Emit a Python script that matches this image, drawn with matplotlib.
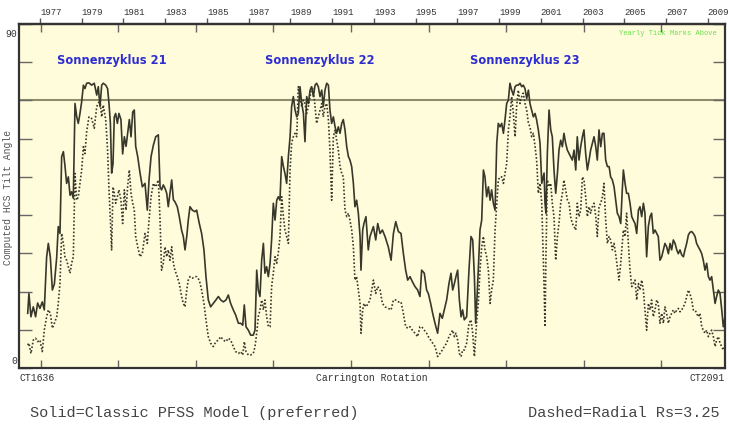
import matplotlib
matplotlib.use("Agg")
import matplotlib.pyplot as plt

# ------------------------------
# Data: Carrington rotation vs. computed HCS tilt angle (deg)
# ------------------------------
carrington = [
    1641.6, 1642.4, 1643.7, 1645.2, 1646.7, 1648.0, 1649.5, 1651.0, 1652.3, 1653.8,
    1654.9, 1656.2, 1657.5, 1658.8, 1660.3, 1661.3, 1662.4, 1663.5, 1664.6, 1665.6,
    1666.7, 1667.8, 1668.9, 1669.9, 1671.0, 1672.1, 1673.2, 1674.2, 1675.3, 1676.4,
    1677.5, 1678.5, 1679.6, 1681.1, 1682.8, 1684.5, 1686.1, 1687.1, 1688.2, 1689.3,
    1690.3, 1691.9, 1693.1, 1694.0, 1694.9, 1695.7, 1696.6, 1697.4, 1698.3, 1699.4,
    1700.4, 1701.7, 1702.8, 1703.9, 1705.0, 1706.0, 1707.1, 1708.2, 1709.3, 1710.3,
    1711.2, 1712.5, 1714.0, 1715.5, 1717.2, 1718.7, 1719.8, 1721.1, 1722.6, 1724.1,
    1725.8, 1726.9, 1727.9, 1729.0, 1730.1, 1731.2, 1732.2, 1733.3, 1734.4, 1735.5,
    1736.5, 1738.0, 1739.3, 1740.8, 1741.9, 1743.0, 1744.1, 1745.1, 1746.2, 1747.7,
    1749.4,
    1750.5, 1752.2, 1753.7, 1755.2, 1756.5, 1758.0, 1759.5, 1761.2, 1762.9, 1764.5,
    1766.0, 1767.7, 1769.4, 1770.9, 1772.4, 1774.1, 1775.6, 1777.4, 1778.9, 1780.2,
    1781.2, 1782.3, 1783.8, 1785.3, 1787.0, 1788.1, 1789.2, 1790.2, 1791.3, 1792.4,
    1793.5, 1794.5, 1795.6, 1796.7, 1797.8, 1798.8, 1799.9, 1801.0, 1802.1, 1803.1,
    1804.2, 1805.3, 1806.4, 1807.4, 1808.5, 1809.6, 1810.7, 1811.7, 1812.8, 1813.9,
    1815.0, 1816.0, 1817.1, 1818.2, 1819.3, 1820.3, 1821.4, 1822.5, 1823.6, 1824.6,
    1825.7, 1826.8, 1827.8, 1828.9, 1830.0, 1831.1, 1832.1, 1833.2, 1834.3, 1835.4,
    1836.4, 1837.5, 1838.6, 1839.7, 1840.7, 1841.8, 1842.9, 1844.0, 1845.0, 1846.1,
    1847.2, 1848.3, 1849.3, 1850.4, 1851.5, 1852.5, 1853.6, 1854.7, 1855.8,
    1856.4, 1857.5, 1858.3, 1859.6, 1861.1, 1862.2,
    1864.4, 1865.9, 1867.2, 1868.7, 1870.2, 1871.9, 1874.0, 1875.8, 1877.3, 1878.8,
    1880.5, 1882.2, 1883.7, 1885.2, 1886.5, 1888.0, 1889.5, 1891.2, 1892.9, 1894.4,
    1895.5, 1897.2, 1898.7, 1899.8, 1901.3, 1902.6, 1904.1, 1905.8, 1907.3, 1908.8,
    1910.1, 1911.6, 1913.1, 1914.4, 1915.5, 1916.6, 1917.6, 1918.7, 1919.8, 1920.9,
    1921.9, 1923.0, 1924.5, 1926.0, 1927.3, 1928.4, 1929.5, 1930.3, 1931.2, 1932.0,
    1933.1, 1934.2, 1935.3, 1936.3, 1937.4, 1938.5, 1939.6, 1940.6, 1941.7, 1942.8,
    1943.9, 1944.9, 1946.0, 1947.1, 1948.2, 1949.2, 1950.3, 1951.4, 1952.4, 1953.5,
    1954.6, 1955.7, 1956.7, 1957.8, 1958.9, 1960.0, 1961.0, 1962.1, 1963.2, 1964.3,
    1965.3, 1966.4, 1967.5, 1968.6, 1969.6, 1970.7, 1971.8,
    1972.9, 1974.4, 1975.0, 1975.6, 1976.5,
    1977.6, 1978.7, 1979.7, 1980.8, 1981.9, 1983.0, 1984.0, 1985.1, 1986.2, 1987.2,
    1988.3, 1989.4, 1990.5, 1991.5, 1992.6, 1993.7, 1994.8, 1995.8, 1996.9, 1998.0,
    1999.1, 2000.1, 2001.2, 2002.3, 2003.4, 2004.4, 2005.5, 2006.6, 2007.7, 2008.7,
    2009.8, 2010.9, 2012.0, 2013.0, 2014.1, 2015.2, 2016.3, 2017.3, 2018.4, 2019.5,
    2020.5, 2021.6, 2022.7, 2023.8, 2024.8,
    2025.5, 2026.6, 2027.6, 2028.7, 2029.8, 2030.9, 2031.9, 2033.0, 2034.1, 2035.2,
    2036.2, 2037.3, 2038.4, 2039.4, 2040.5, 2041.6, 2042.7, 2043.7, 2044.8, 2045.9,
    2047.0, 2048.0, 2049.1, 2050.2, 2051.3, 2052.3, 2053.4, 2054.5, 2055.6, 2056.6,
    2057.7, 2058.8, 2059.9, 2060.9, 2062.0, 2063.1, 2064.2, 2065.2, 2066.3, 2067.4,
    2068.4, 2069.5, 2070.6, 2071.7, 2072.7, 2073.8, 2074.9, 2076.0, 2077.0, 2078.1,
    2079.2, 2080.3, 2081.3, 2082.4, 2083.5, 2084.6, 2085.6, 2086.7, 2087.8, 2088.9,
    2089.9, 2091.0,
]

# solid line: classic PFSS model
tilt_classic = [
    14.3, 19.5, 13.4, 16.0, 13.4, 17.0, 15.6, 17.3, 15.2, 29.0,
    32.6, 29.0, 20.4, 22.0, 29.0, 37.0, 35.2, 55.3, 56.6, 53.0,
    48.3, 50.0, 45.2, 46.1, 44.4, 69.2, 65.7, 64.0, 66.6, 69.7,
    74.0, 73.1, 74.5, 74.6, 74.0, 74.5, 71.4, 73.6, 68.4, 74.0,
    74.5, 74.0, 73.1, 69.2, 64.0, 51.0, 53.5, 65.7, 66.6, 64.0,
    66.6, 65.0, 56.0, 60.5, 58.0, 61.4, 65.0, 60.5, 67.0, 67.5,
    58.0, 55.3, 51.0, 47.4, 48.3, 41.3, 49.2, 55.3, 58.3, 60.5,
    61.0, 47.4, 46.6, 47.9, 47.0, 45.7, 42.2, 45.7, 49.2, 44.0,
    43.5, 42.2, 39.6, 36.0, 34.4, 30.9, 34.4, 38.7, 42.2, 41.3,
    40.9,
    41.3, 37.8, 35.2, 30.9, 23.9, 17.8, 16.0, 16.9, 17.8, 18.7,
    17.8, 17.3, 17.8, 19.1, 16.9, 15.2, 13.9, 11.7, 11.7, 11.2,
    16.5, 10.8, 9.9, 8.6, 8.6, 9.9, 25.6, 20.4, 18.7, 28.2,
    32.6, 24.8, 26.5, 23.9, 27.4, 33.5, 43.1, 38.7, 43.9, 44.8,
    43.9, 55.3, 52.7, 50.9, 48.3, 55.3, 60.5, 68.4, 71.0, 67.5,
    65.7, 66.6, 73.6, 69.2, 66.6, 59.2, 71.0, 69.2, 72.7, 73.6,
    71.0, 74.0, 74.5, 73.6, 71.0, 72.7, 68.4, 72.7, 74.5, 74.0,
    67.5, 64.0, 65.7, 63.1, 61.4, 63.1, 61.4, 64.0, 65.0, 62.3,
    57.9, 55.3, 54.4, 52.7, 48.3, 42.2, 43.9, 40.5, 34.4,
    25.6, 36.1, 37.8, 39.6, 30.9, 34.4,
    37.0, 33.5, 37.8, 35.2, 36.1, 34.4, 31.7, 28.2, 35.2, 38.3,
    35.7, 35.2, 30.0, 25.6, 23.0, 23.9, 22.6, 21.3, 20.4, 18.7,
    25.6, 24.8, 20.4, 19.5, 16.9, 14.3, 11.7, 9.1, 14.3, 13.0,
    15.2, 17.8, 22.1, 24.8, 20.4, 22.1, 23.9, 25.6, 17.8, 13.4,
    15.2, 12.6, 13.4, 25.6, 34.4, 33.5, 23.9, 11.7, 18.7, 25.6,
    36.1, 38.7, 51.8, 50.0, 44.8, 47.4, 43.9, 46.6, 43.1, 41.3,
    58.8, 64.0, 63.1, 64.0, 61.4, 64.9, 69.2, 70.1, 74.5, 72.7,
    71.4, 73.6, 74.0, 74.0, 74.5, 73.6, 74.0, 73.1, 70.5, 72.7,
    69.2, 67.5, 65.7, 66.6, 64.9, 62.3, 58.8,
    48.3, 51.0, 43.1, 40.5, 56.2,
    67.5, 62.3, 60.5, 51.8, 45.7, 50.9, 57.0, 59.6, 57.9, 61.4,
    58.8, 57.0, 56.1, 55.3, 54.4, 57.0, 51.8, 60.5, 54.4, 57.9,
    60.5, 62.3, 56.1, 51.8, 54.4, 57.0, 58.8, 60.5, 57.9, 54.4,
    62.3, 57.9, 61.4, 61.4, 54.4, 52.7, 52.7, 50.0, 49.2, 47.4,
    44.0, 40.5, 39.6, 37.8, 46.6,
    51.8, 48.3, 45.7, 45.7, 43.1, 39.6, 38.7, 37.8, 35.2, 41.3,
    42.2, 39.6, 43.1, 40.5, 29.1, 37.0, 39.6, 40.5, 35.2, 36.1,
    35.2, 34.4, 28.2, 29.1, 30.9, 32.6, 31.7, 29.9, 32.6, 30.9,
    33.5, 32.6, 30.9, 29.9, 30.9, 29.6, 29.1, 30.9, 32.6, 34.8,
    35.5, 35.7, 35.2, 34.4, 32.6, 31.7, 30.9, 29.9, 28.2, 25.6,
    27.4, 23.9, 23.0, 23.9, 20.4, 16.9, 18.7, 20.4, 19.5, 15.2,
    10.8, 13.4,
]

# dotted line: radial model, Rs = 3.25
tilt_radial = [
    6.0, 6.5, 3.8, 7.3, 7.8, 6.9, 7.3, 4.3, 9.9, 13.4,
    15.2, 14.3, 10.4, 11.7, 13.4, 16.9, 22.1, 35.2, 32.6, 29.1,
    28.2, 26.5, 24.8, 27.4, 29.1, 50.9, 43.9, 44.8, 48.3, 51.8,
    57.9, 56.1, 61.8, 65.7, 65.3, 62.7, 68.4, 69.2, 70.1, 65.7,
    68.8, 64.9, 57.0, 46.6, 38.7, 30.9, 47.4, 45.7, 43.1, 44.8,
    46.6, 43.9, 37.8, 46.6, 41.3, 47.4, 51.8, 45.7, 43.1, 41.3,
    34.4, 31.7, 29.1, 30.0, 35.2, 32.6, 38.7, 44.8, 48.3, 47.4,
    49.2, 38.7, 25.6, 27.4, 31.7, 29.1, 30.9, 28.2, 31.7, 27.4,
    25.6, 23.9, 22.1, 18.7, 16.9, 16.0, 20.4, 23.0, 23.9, 23.5,
    23.9,
    23.9, 23.0, 20.4, 16.9, 12.6, 8.2, 6.5, 5.6, 6.9, 7.3,
    8.2, 7.3, 6.9, 7.8, 7.3, 5.6, 4.3, 3.8, 4.3, 3.4,
    6.9, 4.3, 3.4, 3.4, 3.8, 5.6, 9.1, 13.4, 15.2, 17.8,
    15.2, 17.8, 13.4, 10.8, 10.8, 21.3, 24.8, 29.1, 27.4, 30.0,
    34.4, 44.8, 39.6, 36.1, 34.4, 32.6, 51.8, 58.8, 60.5, 61.4,
    60.5, 73.6, 71.0, 68.4, 70.1, 69.2, 66.6, 68.4, 71.0, 73.6,
    72.7, 68.4, 64.0, 65.7, 67.5, 69.2, 65.7, 68.4, 69.2, 64.9,
    57.0, 43.9, 60.5, 62.3, 59.6, 57.0, 52.7, 50.9, 50.0, 41.3,
    39.6, 40.5, 38.7, 36.1, 31.7, 23.0, 23.9, 20.4, 16.9,
    9.1, 15.2, 16.9, 16.0, 16.9, 17.8,
    23.0, 19.5, 21.3, 20.4, 16.9, 16.0, 15.6, 15.2, 17.8, 17.8,
    17.3, 17.3, 14.3, 10.8, 10.4, 10.8, 9.9, 9.1, 8.2, 10.8,
    10.8, 9.9, 9.1, 8.2, 7.3, 6.5, 5.6, 3.0, 3.8, 4.7,
    5.6, 6.5, 8.2, 9.1, 9.9, 8.2, 9.1, 7.3, 3.8, 3.0,
    4.7, 4.7, 6.5, 11.7, 12.6, 9.1, 3.0, 8.2, 13.4, 16.9,
    25.6, 31.7, 34.4, 30.9, 29.1, 25.6, 16.9, 20.4, 23.0, 36.1,
    43.1, 49.2, 50.0, 50.0, 48.3, 50.9, 53.5, 62.3, 65.7, 71.0,
    66.6, 60.5, 68.4, 72.7, 69.2, 71.0, 71.9, 69.2, 67.5, 64.0,
    63.1, 60.5, 61.4, 57.9, 54.4, 45.7, 48.3,
    43.1, 21.3, 10.8, 29.1, 49.2,
    47.4, 48.3, 43.1, 39.6, 28.2, 34.4, 37.8, 43.1, 45.7, 49.2,
    46.6, 44.0, 43.1, 39.6, 37.8, 37.0, 36.1, 43.1, 39.6, 41.3,
    50.0, 49.2, 44.8, 39.6, 42.2, 40.5, 42.2, 43.1, 39.6, 34.4,
    42.2, 43.1, 44.8, 48.3, 38.7, 32.6, 34.4, 33.5, 30.9, 32.6,
    29.9, 26.5, 23.0, 27.4, 32.6,
    36.1, 34.4, 40.5, 32.6, 25.6, 21.3, 22.1, 23.0, 17.8, 22.1,
    20.4, 23.0, 20.4, 15.2, 9.9, 16.9, 15.2, 17.8, 13.4, 15.2,
    17.8, 16.9, 11.7, 14.3, 11.7, 16.0, 14.3, 11.7, 13.4, 14.3,
    15.2, 14.3, 15.2, 15.6, 14.7, 15.2, 16.0, 16.9, 18.7, 20.4,
    19.5, 17.8, 15.2, 15.2, 14.3, 13.4, 14.3, 10.8, 9.9, 9.1,
    9.9, 8.2, 9.1, 9.9, 8.2, 5.6, 7.3, 8.2, 6.5, 5.6,
    4.7, 5.6,
]

cycle_names = ["Sonnenzyklus 21", "Sonnenzyklus 22", "Sonnenzyklus 23"]
year_ticks = list(range(1977, 2010, 2))
cr_first, cr_last = 1636, 2091


def cr_to_year(cr):
    return 1977 + (cr - 1649.5) / 13.45


def year_to_cr(yr):
    return 1649.5 + (yr - 1977) * 13.45


mono = "Liberation Mono"
ink = "#38382a"

fig = plt.figure(figsize=(7.29, 4.26), dpi=100)
ax = fig.add_axes([19 / 729, 58 / 426, 706 / 729, 344 / 426])
ax.set_facecolor("#fffcdc")

ax.plot(carrington, tilt_classic, color=ink, lw=1.2)
ax.plot(carrington, tilt_radial, color=ink, lw=1.2, linestyle=(0, (1, 1.2)))
ax.axhline(70, color="#8e8e6e", lw=1.5, zorder=1)

ax.set_xlim(cr_first, cr_last)
ax.set_ylim(0, 90)
ax.set_xticks(range(1650, cr_last, 50))
ax.set_xticklabels([])
ax.set_yticks(range(0, 91, 10))
ax.set_yticklabels([])
ax.tick_params(axis="x", direction="in", length=5.5, width=1, color="#666", top=True, bottom=True)
ax.tick_params(axis="y", direction="in", length=9, width=1, color="#666", left=True, right=True)
for spine in ax.spines.values():
    spine.set_linewidth(1.6)
    spine.set_color("#333333")

# year axis on top, labels start at their tick
top = ax.secondary_xaxis("top", functions=(cr_to_year, year_to_cr))
top.set_xticks(year_ticks)
top.set_xticklabels([str(y) for y in year_ticks], fontsize=6.5, family=mono, color="#333", ha="left")
top.tick_params(direction="out", length=4.5, width=1, pad=0.5, color="#555")
top.spines["top"].set_linewidth(1.6)
top.spines["top"].set_color("#333333")

# labels
ax.text(-0.003, 0.985, "90", transform=ax.transAxes, ha="right", va="top",
        fontsize=7, family=mono, color="#333")
ax.text(-0.003, 0.005, "0", transform=ax.transAxes, ha="right", va="bottom",
        fontsize=7, family=mono, color="#333")
fig.text(8 / 729, 1 - 197 / 426, "Computed HCS Tilt Angle", rotation=90, ha="center",
         va="center", fontsize=7, family=mono, color="#555")
fig.text(20 / 729, 1 - 378 / 426, "CT1636", ha="left", va="center", fontsize=7, family=mono, color="#333")
fig.text(372 / 729, 1 - 378 / 426, "Carrington Rotation", ha="center", va="center",
         fontsize=7, family=mono, color="#333")
fig.text(725 / 729, 1 - 378 / 426, "CT2091", ha="right", va="center", fontsize=7, family=mono, color="#333")

for name, x in zip(cycle_names, [1696, 1830, 1962]):
    ax.text(x, 80.5, name, ha="center", va="center", fontsize=8.3, fontweight="bold",
            color="#2e2ed0", family="DejaVu Sans")

ax.text(0.989, 0.983, "Yearly Tick Marks Above", transform=ax.transAxes, ha="right", va="top",
        fontsize=5, family=mono, color="#66e04a")

fig.text(30 / 729, 1 - 413 / 426, "Solid=Classic PFSS Model (preferred)", ha="left", va="center",
         fontsize=11, family=mono, color="#444")
fig.text(720 / 729, 1 - 413 / 426, "Dashed=Radial Rs=3.25", ha="right", va="center",
         fontsize=11, family=mono, color="#444")

fig.savefig("out.png", dpi=100)
